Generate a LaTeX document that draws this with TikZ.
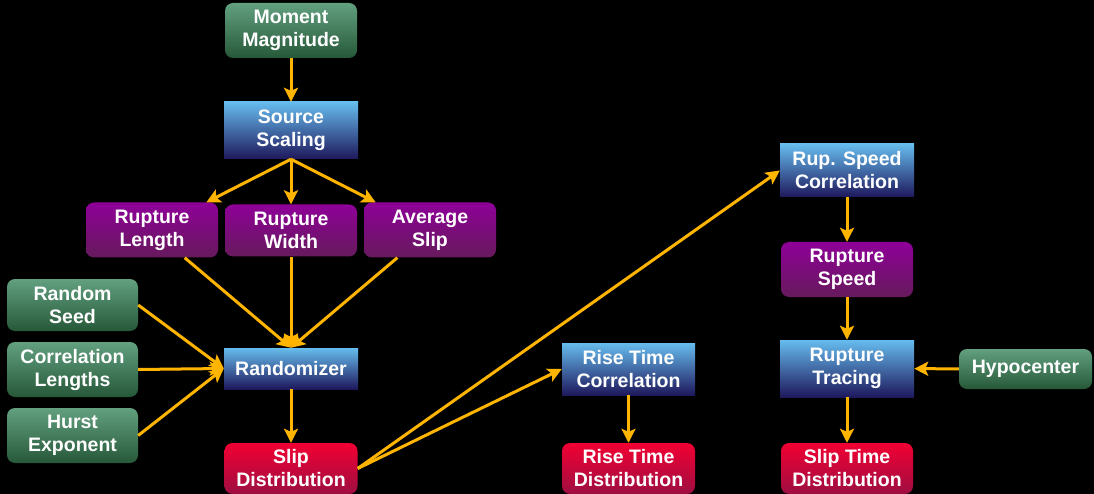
\documentclass[tikz,border=0pt]{standalone}
\usepackage{fontspec}
\setmainfont{Liberation Sans}
\usetikzlibrary{arrows.meta}
\definecolor{inTop}{RGB}{98,160,128}
\definecolor{inBot}{RGB}{38,88,56}
\definecolor{stTop}{RGB}{102,188,238}
\definecolor{stBot}{RGB}{30,24,92}
\definecolor{paTop}{RGB}{142,0,152}
\definecolor{paBot}{RGB}{102,26,92}
\definecolor{reTop}{RGB}{242,0,50}
\definecolor{reBot}{RGB}{158,14,66}
\definecolor{flowc}{RGB}{255,180,0}
\tikzset{
    box/.style={text=white,font=\fontsize{19.5}{23}\selectfont\bfseries,align=center,
        minimum width=132pt,minimum height=55pt,inner sep=0pt},
    input/.style={box,rounded corners=8pt,top color=inTop,bottom color=inBot},
    stage/.style={box,top color=stTop,bottom color=stBot},
    param/.style={box,rounded corners=8pt,top color=paTop,bottom color=paBot},
    result/.style={box,rounded corners=8pt,top color=reTop,bottom color=reBot},
    flow/.style={draw=flowc,line width=3pt,-{Stealth[length=14pt,width=14pt,inset=3pt]}}
}

\begin{document}
\begin{tikzpicture}[x=1pt,y=-1pt]
\fill[black](0,0)rectangle(1094,494);
\useasboundingbox(0,0)rectangle(1094,494);
% source side
\node[input](mm)at(291,30.5){Moment\\Magnitude};
\node[stage,minimum width=134pt,minimum height=57pt](ss)at(291,130.5){Source\\Scaling};
\node[param](rl)at(152,230){Rupture\\Length};
\node[param,minimum height=52pt](rw)at(291,230.5){Rupture\\Width};
\node[param](as)at(430,230){Average\\Slip};
\node[input,minimum width=131pt,minimum height=52pt](rs)at(72.5,305){Random\\Seed};
\node[input,minimum width=131pt](cl)at(72.5,369.5){Correlation\\Lengths};
\node[input,minimum width=131pt](he)at(72.5,435.5){Hurst\\Exponent};
\node[stage,minimum width=134pt,minimum height=41pt](rand)at(291,368.5){Randomizer};
\node[result,minimum width=133pt,minimum height=51pt](sd)at(291,468.5){Slip\\Distribution};
% rise time
\node[stage,minimum width=133pt,minimum height=52pt](rtc)at(628.5,369){Rise Time\\Correlation};
\node[result,minimum width=133pt,minimum height=51pt](rtd)at(628.5,468.5){Rise Time\\Distribution};
% rupture speed
\node[stage,minimum width=134pt,minimum height=53pt](rsc)at(847,170.5){Rup. Speed\\Correlation};
\node[param](rsp)at(847,269.5){Rupture\\Speed};
\node[stage,minimum width=134pt,minimum height=57pt](rtr)at(847,368.5){Rupture\\Tracing};
\node[input,minimum width=133pt,minimum height=40pt](hyp)at(1025.5,369){Hypocenter};
\node[result,minimum height=51pt](std)at(847,468.5){Slip Time\\Distribution};

\draw[flow](mm)--(ss);
\foreach \p in {rl,rw,as}
    {\draw[flow](ss.south)--(\p);
     \draw[flow](\p)--(rand.north);
    }
\foreach \p in {rs,cl,he}
    \draw[flow](\p.east)--(rand.west);
\draw[flow](rand)--(sd);
\draw[flow](sd.east)--(rtc.west);
\draw[flow](sd.east)--(rsc.west);
\draw[flow](rtc)--(rtd);
\draw[flow](rsc)--(rsp);
\draw[flow](rsp)--(rtr);
\draw[flow](hyp)--(rtr);
\draw[flow](rtr)--(std);
\end{tikzpicture}
\end{document}
